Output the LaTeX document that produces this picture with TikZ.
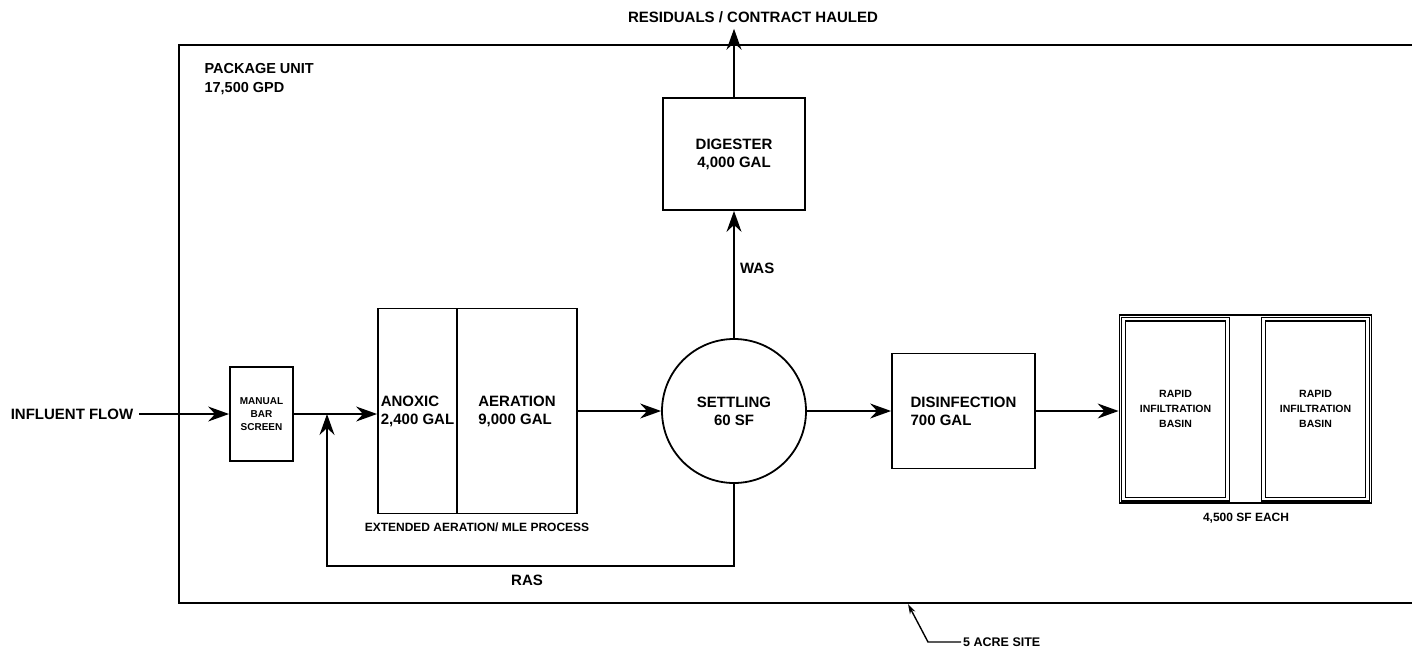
\documentclass[tikz,border=0pt]{standalone}
\usepackage{fontspec}
\setmainfont{Liberation Sans}
\usetikzlibrary{arrows.meta,fit}

\tikzset{
  lbl/.style={font=\fontsize{15}{18}\selectfont\bfseries},
  lblsmall/.style={font=\fontsize{12}{14}\selectfont\bfseries},
  lbltiny/.style={font=\fontsize{10}{13}\selectfont\bfseries},
  tank/.style={draw, line width=1.8pt, lbl, align=center, inner sep=0pt},
  flow/.style={line width=1.5pt, -{Stealth[length=21pt,width=15pt,inset=7pt]}},
}

\begin{document}
\begin{tikzpicture}[x=1pt,y=-1pt]
\useasboundingbox (0,0) rectangle (1412,651);

% ======================= site boundary (package unit) =======
\draw[line width=2.4pt] (1412,45) -- (179,45) -- (179,603) -- (1412,603);
\node[lbl, anchor=north west, align=left, font=\fontsize{14.5}{19}\selectfont\bfseries]
  (pkg) at (201,60) {PACKAGE UNIT\\17,500 GPD};

% ======================= treatment train =======
\node[lbl, inner sep=6pt] (influent) at (72,414) {INFLUENT FLOW};
\node[tank, lbltiny, minimum width=63, minimum height=94] (screen) at (261.5,414) {MANUAL\\BAR\\SCREEN};
\node[tank, minimum width=79, minimum height=205, align=left] (anoxic) at (417.5,411) {ANOXIC\\2,400 GAL};
\node[tank, minimum width=120, minimum height=205, align=left] (aeration) at (517,411) {AERATION\\9,000 GAL};
\node[lblsmall] (process) at (477,527) {EXTENDED AERATION/ MLE PROCESS};
\node[tank, circle, minimum size=144] (settling) at (734,411) {SETTLING\\60 SF};
\node[tank, minimum width=142, minimum height=112] (digester) at (734,154) {DIGESTER\\4,000 GAL};
\node[lbl, inner sep=6pt] (residuals) at (753,17) {RESIDUALS / CONTRACT HAULED};
\node[tank, minimum width=143, minimum height=115, align=left] (disinfection) at (963.5,411) {DISINFECTION\\700 GAL};

% ======================= rapid infiltration basins =======
\node[draw, line width=1.3pt, double, double distance=2.4pt, lbltiny, align=center,
      minimum width=104, minimum height=180, font=\fontsize{10.5}{15}\selectfont\bfseries]
  (basinA) at (1175.5,409) {RAPID\\INFILTRATION\\BASIN};
\node[draw, line width=1.3pt, double, double distance=2.4pt, lbltiny, align=center,
      minimum width=104, minimum height=180, font=\fontsize{10.5}{15}\selectfont\bfseries]
  (basinB) at (1315.5,409) {RAPID\\INFILTRATION\\BASIN};
\node[draw, line width=1.5pt, fit=(basinA)(basinB), inner sep=3.5pt] (basins) {};
\node[lblsmall] (each) at (1246,518) {4,500 SF EACH};

% ======================= connectors =======
\coordinate (rasjoin) at (327,414);
\coordinate (rasbot) at (327,566);
\draw[flow] (influent) -- (screen);
\draw[flow] (screen.east) -- (screen.east -| anoxic.west);
\draw[flow] (aeration.east) -- (settling.west);
\draw[flow] (settling.east) -- (disinfection.west);
\draw[flow] (disinfection.east) -- (disinfection.east -| basins.west);
\draw[flow] (settling.north) -- (digester.south) node[lbl, midway, anchor=west, xshift=2pt, yshift=6pt] (was) {WAS};
\draw[flow] (digester.north) -- (digester.north |- residuals.south);
\draw[flow] (settling.south) |- (rasbot) -- (rasjoin);
\node[lbl] (ras) at (527,580) {RAS};

% ======================= site callout =======
\node[lblsmall, anchor=west, inner sep=2pt, font=\fontsize{12.5}{14}\selectfont\bfseries] (site) at (961,642) {5 ACRE SITE};
\coordinate (siteedge) at (908,604);
\draw[line width=1.4pt, -{Stealth[length=10pt,width=6pt]}] (site.west) -- (928,642) -- (siteedge);

\end{tikzpicture}
\end{document}
